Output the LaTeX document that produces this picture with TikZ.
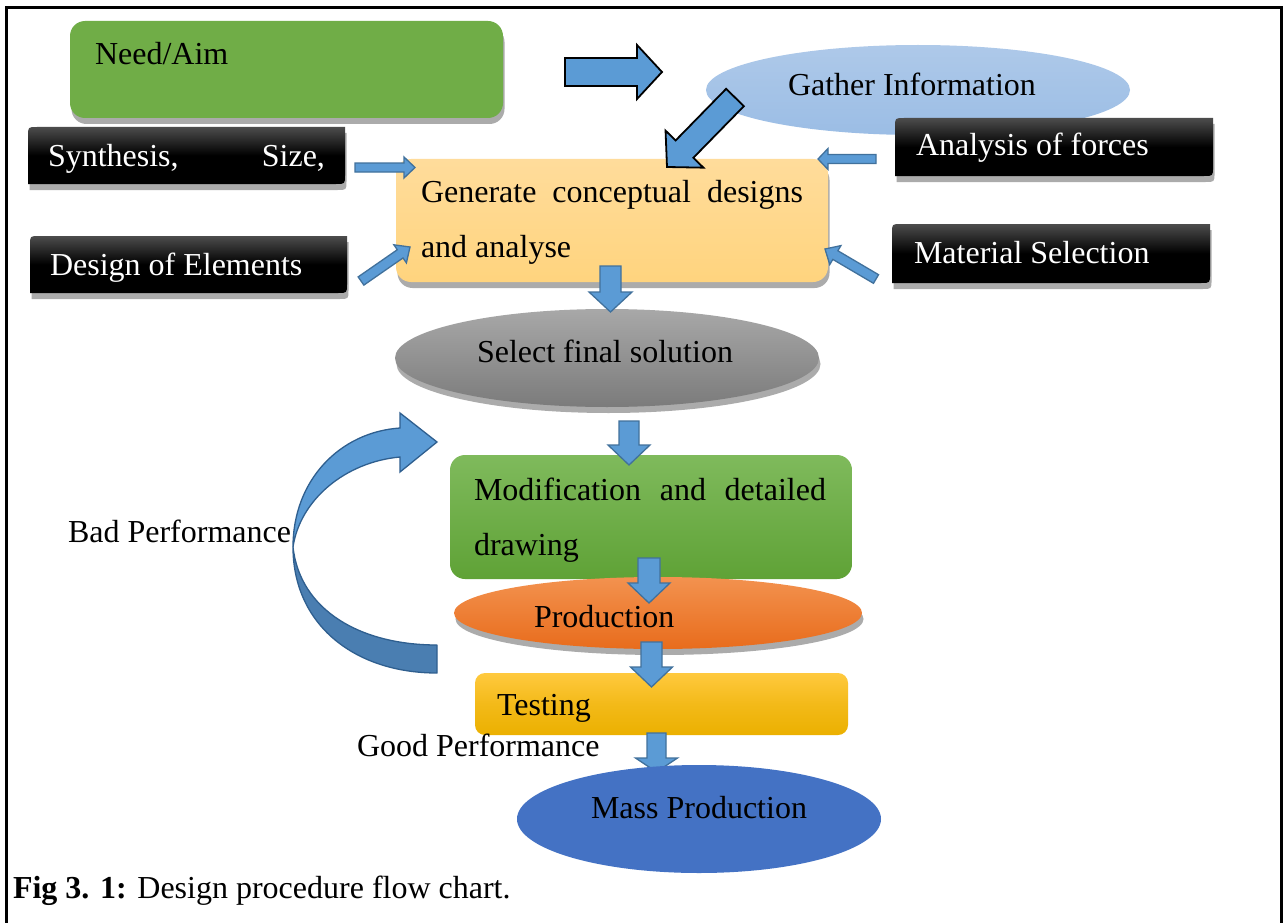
\documentclass[tikz,border=0pt]{standalone}
\usepackage{fontspec}
\setmainfont{Liberation Serif}
\usetikzlibrary{calc,shapes.geometric,shadows}
\definecolor{arrowblue}{HTML}{5B9BD5}
\definecolor{arrowline}{HTML}{41719C}
\definecolor{needgreen}{HTML}{70AD47}
\definecolor{gentop}{HTML}{FFDC9B}
\definecolor{genbot}{HTML}{FFD47E}
\definecolor{gathtop}{HTML}{AEC9E9}
\definecolor{gathbot}{HTML}{9BBDE5}
\definecolor{seltop}{HTML}{A8A8A8}
\definecolor{selbot}{HTML}{7B7B7B}
\definecolor{modtop}{HTML}{7FBA5C}
\definecolor{modbot}{HTML}{5FA236}
\definecolor{prodtop}{HTML}{F3924F}
\definecolor{prodbot}{HTML}{E86C1C}
\definecolor{testtop}{HTML}{FFC93E}
\definecolor{testbot}{HTML}{EBB000}
\definecolor{massblue}{HTML}{4472C4}
\definecolor{curvelow}{HTML}{4A7EB1}
\definecolor{curveline}{HTML}{2F5F8F}
\newcommand\blockarrow[6][]{%
  \coordinate (bah) at ($(#3)!#6!(#2)$);
  \draw[blockarr,#1] ($(#2)!#4!90:(#3)$) -- ($(bah)!#4!90:(#3)$) -- ($(bah)!#5!90:(#3)$) -- (#3)
    -- ($(bah)!#5!-90:(#3)$) -- ($(bah)!#4!-90:(#3)$) -- ($(#2)!#4!-90:(#3)$) -- cycle;}
\newcommand\darkbox[5]{%
  \path[blackgrad, shad] (#2,#5) -- (#2,#3+9) .. controls (#2,#3) .. (#2+9,#3) -- (#4,#3)
    -- (#4,#5-9) .. controls (#4,#5) .. (#4-9,#5) -- cycle;
  \node[minimum width={(#4-#2)*1pt}, minimum height={(#5-#3)*1pt}] (#1) at ({(#2+#4)/2},{(#3+#5)/2}) {};}
\begin{document}
\begin{tikzpicture}[x=1pt,y=-1pt,
  every node/.style={inner sep=0pt, outer sep=0pt, font=\fontsize{32}{38}\selectfont},
  shad/.style={drop shadow={shadow xshift=1.5pt, shadow yshift=-6pt, fill=black!33, opacity=1}},
  rbox/.style={rectangle, rounded corners=15pt, draw=none},
  ebox/.style={ellipse, draw=none},
  blackgrad/.style={top color=black!70, bottom color=black, middle color=black},
  blockarr/.style={fill=arrowblue, draw=arrowline, line width=1.3pt, line join=miter},
  bigarr/.style={draw=black, line width=1.8pt},
  txt/.style={anchor=base west, text=black},
  wtxt/.style={anchor=base west, text=white}]
\useasboundingbox (0,0) rectangle (1285,923);
\fill[white] (0,0) rectangle (1285,923);
% frame
\draw[line width=3pt] (6,925) -- (6,8) -- (1281.5,8) -- (1281.5,925);

% Need / Aim
\node[rbox, fill=needgreen, shad, minimum width=433pt, minimum height=97pt] (need) at (286.5,69.5) {};
\node[txt] (needt) at (95,65) {Need/Aim};

% Gather information
\node[ebox, top color=gathtop, bottom color=gathbot, minimum width=424pt, minimum height=90pt] (gather) at (918,90) {};
\node[txt] (gathert) at (788,96) {Gather Information};

% dark boxes
\darkbox{synth}{28}{127}{345}{184}
\node[wtxt] (syntht) at (48,166) {\makebox[277pt][s]{Synthesis, Size,}};
\darkbox{design}{30}{236}{347}{293}
\node[wtxt] (designt) at (50,275) {Design of Elements};
\darkbox{forces}{895}{118}{1213}{176}
\node[wtxt] (forcest) at (916,156) {Analysis of forces};
\darkbox{material}{892}{224}{1210}{283}
\node[wtxt] (materialt) at (914,263) {Material Selection};

% Generate
\node[rbox, top color=gentop, bottom color=genbot, shad, minimum width=432pt, minimum height=123pt] (gen) at (612,220.5) {};
\node[txt] (gent1) at (421,202) {\makebox[382pt][s]{Generate conceptual designs}};
\node[txt] (gent2) at (421,257) {and analyse};

% arrows at the top
\coordinate (a1s) at (565,72);   \coordinate (a1e) at (662,72);
\blockarrow[bigarr]{a1s}{a1e}{14pt}{27pt}{25pt}
\coordinate (a2s) at (735,97.5); \coordinate (a2e) at (667,167);
\blockarrow[bigarr]{a2s}{a2e}{12.4pt}{26.5pt}{25pt}
\coordinate (a3s) at (355,167.5); \coordinate (a3e) at (415,167.5);
\blockarrow{a3s}{a3e}{4.5pt}{10.5pt}{11pt}
\coordinate (a4s) at (361,281); \coordinate (a4e) at (410,247);
\blockarrow{a4s}{a4e}{5pt}{11pt}{12pt}
\coordinate (a5s) at (876,159); \coordinate (a5e) at (818,159);
\blockarrow{a5s}{a5e}{4.5pt}{10.5pt}{10pt}
\coordinate (a6s) at (876,279); \coordinate (a6e) at (825,249);
\blockarrow{a6s}{a6e}{5pt}{11pt}{12pt}

% Select final solution
\node[ebox, top color=seltop, bottom color=selbot, shad, minimum width=424pt, minimum height=98pt] (sel) at (607,358) {};
\node[txt] (selt) at (477,362) {Select final solution};
\coordinate (a7s) at (610.5,266); \coordinate (a7e) at (610.5,312);
\blockarrow{a7s}{a7e}{10.5pt}{21.5pt}{20pt}

% Modification
\node[rbox, top color=modtop, bottom color=modbot, minimum width=402pt, minimum height=124pt] (mod) at (651,517) {};
\node[txt] (modt1) at (474,500) {\makebox[352pt][s]{Modification and detailed}};
\node[txt] (modt2) at (474,555) {drawing};
\coordinate (a8s) at (629,421); \coordinate (a8e) at (629,465);
\blockarrow{a8s}{a8e}{10pt}{21pt}{20pt}

% Production
\node[ebox, top color=prodtop, bottom color=prodbot, shad, minimum width=408pt, minimum height=72pt] (prod) at (658,613) {};
\node[txt] (prodt) at (534,627) {Production};
\coordinate (a9s) at (649,558); \coordinate (a9e) at (649,603);
\blockarrow{a9s}{a9e}{11pt}{21pt}{20pt}

% Testing
\node[rbox, rounded corners=10pt, top color=testtop, bottom color=testbot, middle color=testbot!60!testtop, minimum width=373pt, minimum height=62pt] (test) at (661.5,704) {};
\node[txt] (testt) at (497,715) {Testing};
\coordinate (a10s) at (651.5,642); \coordinate (a10e) at (651.5,687);
\blockarrow{a10s}{a10e}{10.5pt}{21pt}{20pt}

% Mass production
\coordinate (a11s) at (656.5,733); \coordinate (a11e) at (656.5,772);
\blockarrow{a11s}{a11e}{9.5pt}{21pt}{14pt}
\node[ebox, fill=massblue, minimum width=364pt, minimum height=108pt] (mass) at (699,819) {};
\node[txt] (masst) at (591,818) {Mass Production};
\node[txt] (good) at (357,756) {Good Performance};

% Bad performance loop
\node[txt] (bad) at (68,542) {Bad Performance};
\coordinate (cl) at (293,547);
\coordinate (cu) at (400,428);
\coordinate (ch1) at (400,413);
\coordinate (ctip) at (437,442);
\coordinate (ch2) at (400,472);
\coordinate (ci) at (400,457);
\coordinate (cb1) at (437,673);
\coordinate (cb2) at (437,645);
\draw[fill=curvelow, draw=curveline, line width=1.3pt, line join=round]
  (cl) .. controls (293,625) and (355,673) .. (cb1) -- (cb2)
  .. controls (360,645) and (300,610) .. (cl) -- cycle;
\draw[fill=arrowblue, draw=curveline, line width=1.3pt, line join=miter]
  (cl) .. controls (293,480) and (340,432) .. (cu) -- (ch1) -- (ctip) -- (ch2) -- (ci)
  .. controls (345,462) and (300,500) .. (cl) -- cycle;

% caption
\node[txt] (cap) at (13,898) {\textbf{Fig 3. 1:} Design procedure flow chart.};
\end{tikzpicture}
\end{document}
